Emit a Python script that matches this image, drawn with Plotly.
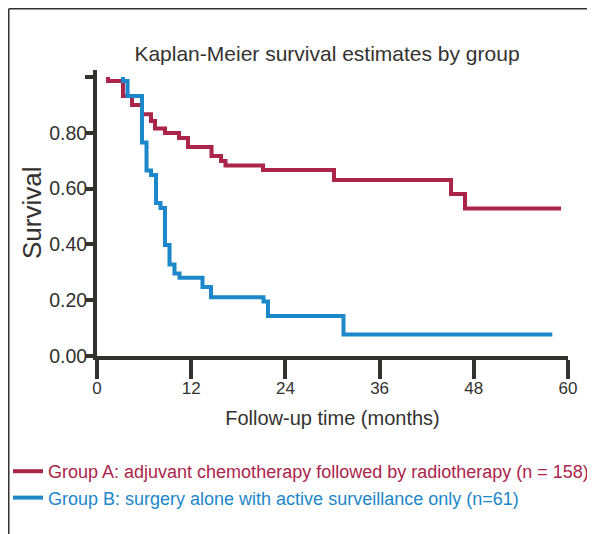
import plotly.graph_objects as go

# ---- data ----
red_time = [1.40, 1.40, 3.31, 4.46, 5.73, 6.88, 7.39, 8.66, 10.45, 11.59, 14.59, 15.80, 16.37, 21.15, 30.19, 45.10, 46.88, 59.11]
red_surv = [1.000, 0.986, 0.932, 0.900, 0.866, 0.842, 0.815, 0.799, 0.781, 0.749, 0.717, 0.699, 0.683, 0.667, 0.631, 0.581, 0.529, 0.529]
blue_time = [3.31, 3.31, 3.89, 5.73, 6.31, 6.88, 7.52, 8.09, 8.66, 9.24, 9.87, 10.51, 13.44, 14.52, 21.21, 21.78, 31.40, 58.00]
blue_surv = [1.000, 0.986, 0.932, 0.765, 0.665, 0.649, 0.548, 0.530, 0.398, 0.328, 0.296, 0.280, 0.247, 0.211, 0.195, 0.143, 0.077, 0.077]

red_name = "Group A: adjuvant chemotherapy followed by radiotherapy (n = 158)"
blue_name = "Group B: surgery alone with active surveillance only (n=61)"

x_tickvals = [0, 12, 24, 36, 48, 60]
x_ticktext = ["0", "12", "24", "36", "48", "60"]
y_tickvals = [0, 0.2, 0.4, 0.6, 0.8, 1.0]
y_ticktext = ["0.00", "0.20", "0.40", "0.60", "0.80", ""]

title_text = "Kaplan-Meier survival estimates by group"
x_title = "Follow-up time (months)"
y_title = "Survival"

# ---- style ----
RED = "#AB244A"
BLUE = "#1C87C9"
DARK = "#333230"
FONT = "Liberation Sans, Arial, sans-serif"

W, H = 595, 534
L, R, T, B = 89, 560, 62, 348  # plot area in figure pixels

fig = go.Figure()
fig.add_trace(go.Scatter(
    x=red_time, y=red_surv, mode="lines", line=dict(color=RED, width=4, shape="hv"),
    name=f"<span style='color:{RED}'>{red_name}</span>"))
fig.add_trace(go.Scatter(
    x=blue_time, y=blue_surv, mode="lines", line=dict(color=BLUE, width=4, shape="hv"),
    name=f"<span style='color:{BLUE}'>{blue_name}</span>"))

def px2paper_x(px):
    return (px - L) / (R - L)

def px2paper_y(py):
    return (B - py) / (B - T)

# outer frame (top and left edges visible)
fig.add_shape(type="line", xref="paper", yref="paper",
              x0=px2paper_x(0.75), x1=px2paper_x(W), y0=px2paper_y(0.75), y1=px2paper_y(0.75),
              line=dict(color=DARK, width=1.5))
fig.add_shape(type="line", xref="paper", yref="paper",
              x0=px2paper_x(0.75), x1=px2paper_x(0.75), y0=px2paper_y(0.75), y1=px2paper_y(H),
              line=dict(color=DARK, width=1.5))

# y-axis title
fig.add_annotation(text=y_title, textangle=-90, showarrow=False,
                   xref="paper", yref="paper", x=px2paper_x(24), y=0.5,
                   xanchor="center", yanchor="middle",
                   font=dict(size=26, color=DARK, family=FONT))

fig.update_layout(
    width=W, height=H,
    margin=dict(l=L, r=W - R, t=T, b=H - B, autoexpand=False),
    plot_bgcolor="white", paper_bgcolor="white",
    font=dict(family=FONT, color=DARK),
    title=dict(text=title_text, font=dict(size=21, color=DARK, family=FONT),
               x=319 / W, xref="container", xanchor="center",
               y=1 - 45.5 / H, yref="container", yanchor="middle"),
    showlegend=True,
    legend=dict(x=0, xref="container", y=1 - 445 / H, yref="container",
                xanchor="left", yanchor="top", font=dict(size=18, family=FONT),
                bgcolor="rgba(0,0,0,0)", tracegroupgap=0),
)
fig.update_xaxes(
    range=[0, 60], tickvals=x_tickvals, ticktext=x_ticktext,
    showline=True, linewidth=4, linecolor=DARK,
    ticks="outside", ticklen=19, tickwidth=4, tickcolor=DARK,
    tickfont=dict(size=17, color=DARK), ticklabelstandoff=-5,
    showgrid=False, zeroline=False,
    title=dict(text=x_title, font=dict(size=20, color=DARK)),
    automargin=False,
)
fig.update_yaxes(
    range=[0, 1.025], tickvals=y_tickvals, ticktext=y_ticktext,
    showline=True, linewidth=4, linecolor=DARK,
    ticks="outside", ticklen=8, tickwidth=4, tickcolor=DARK,
    tickfont=dict(size=19.5, color=DARK), ticklabelstandoff=-6,
    showgrid=False, zeroline=False,
    automargin=False,
)

fig.write_html("out.html")
